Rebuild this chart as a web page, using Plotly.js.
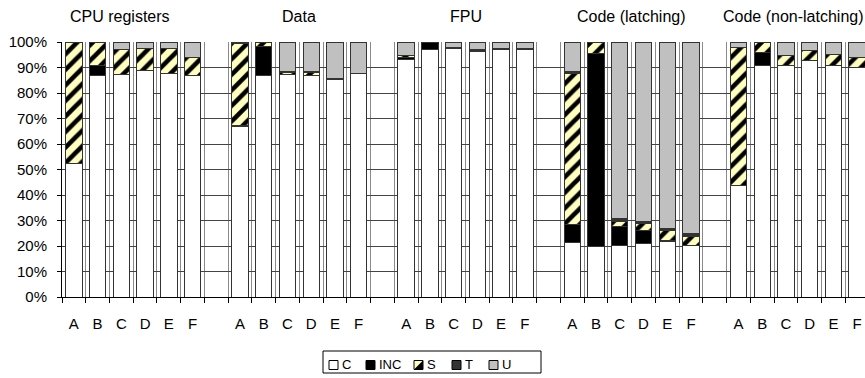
<!DOCTYPE html>
<html><head><meta charset="utf-8">
<script src="https://cdn.plot.ly/plotly-3.0.1.min.js"></script>
<style>html,body{margin:0;padding:0;overflow:hidden;background:#fff}#chart{width:869px;height:378px}</style>
</head><body><div id="chart"></div>
<script>
const groups = ['CPU registers','Data','FPU','Code (latching)','Code (non-latching)'];
const letters = ['A','B','C','D','E','F'];
const seriesNames = ['C','INC','S','T','U'];
// values per bar (percent), groups in order, bars A..F
const valC   = [52.2,87.0,87.4,88.7,87.8,87.0, 66.8,87.0,87.4,86.7,85.2,87.6, 93.2,97.1,97.4,96.4,97.1,97.1, 21.2,19.9,20.1,20.8,21.9,20.3, 43.8,90.9,90.9,92.8,90.9,90.0];
const valINC = [0,3.6,0,0,0,0, 0.6,11.2,0,0,0,0, 0.6,2.9,0,0,0,0, 7.2,75.5,7.4,5.1,0.4,0, 0,4.9,0,0,0,0];
const valS   = [47.5,9.2,9.5,8.7,9.7,6.9, 32.0,1.8,0.6,1.2,0.2,0, 1.1,0,0,0,0,0, 59.4,4.3,2.3,2.9,3.6,3.3, 54.0,4.2,4.0,3.7,4.3,3.9];
const valT   = [0,0,0,0,0,0, 0,0,0.4,0.5,0.4,0, 0,0,0.3,0.5,0.2,0.2, 0.6,0,0.9,0.9,0.8,1.3, 0,0,0,0,0,0];
const valU   = [0.3,0.2,3.1,2.6,2.5,6.1, 0.6,0,11.6,11.6,14.2,12.4, 5.1,0,2.3,3.1,2.7,2.7, 11.6,0.3,69.3,70.3,73.3,75.1, 2.2,0,5.1,3.5,4.8,6.1];

const perGroup = letters.length, slot = perGroup + 1;
const xs = [], tickText = [];
groups.forEach((g, gi) => letters.forEach((l, li) => { xs.push(gi * slot + li); tickText.push(l); }));
const nCat = groups.length * slot - 1;   // 34 category slots (bars + gaps)
const xRange = [-0.5, nCat - 0.5];

const fills = {C:'#ffffff', INC:'#000000', S:'#ffffc0', T:'#333333', U:'#c0c0c0'};
const vals = {C:valC, INC:valINC, S:valS, T:valT, U:valU};
const traces = seriesNames.map(n => {
  const marker = {color:fills[n], line:{color:'#333333', width:1}};
  if (n === 'S') marker.pattern = {shape:'/', fgcolor:'#000000', bgcolor:fills.S, size:11, solidity:0.42, fillmode:'replace'};
  return {type:'bar', name:n, x:xs, y:vals[n].map(v => v === 0 ? null : v), marker, hoverinfo:'skip', showlegend:false};
});
traces.push({type:'scatter', x:xs, y:xs.map(()=>null), xaxis:'x2', showlegend:false, hoverinfo:'skip'});

const fam = '"Liberation Sans", Arial, sans-serif';
const tickFont = {family:fam, size:15, color:'#000'};
const titleFont = {family:fam, size:16, color:'#000'};
const legFont = {family:fam, size:13, color:'#000'};

const titleNudge = [-0.55, 0, 0, 0, -0.2];
const annotations = groups.map((g, gi) => ({
  text:g, xref:'x', yref:'paper', x: gi*slot + (perGroup-1)/2 + titleNudge[gi], y:1,
  yshift:26, yanchor:'middle', showarrow:false, font:titleFont
}));

// custom compact legend (pixel offsets from plot's bottom-left corner)
const PL = 62, PB = 297;
const legSymX = [329, 366, 414, 452, 489];
const legY = 365, symSize = 9;
const shapes = [{type:'rect', xref:'paper', yref:'paper', xsizemode:'pixel', ysizemode:'pixel',
  xanchor:0, yanchor:0, x0:323-PL, x1:541-PL, y0:PB-373, y1:PB-351,
  line:{color:'#000', width:1}, fillcolor:'rgba(0,0,0,0)'}];
seriesNames.forEach((n, i) => {
  const x0 = legSymX[i] - PL, x1 = x0 + symSize, y0 = PB - legY - symSize/2, y1 = y0 + symSize;
  shapes.push({type:'rect', xref:'paper', yref:'paper', xsizemode:'pixel', ysizemode:'pixel',
    xanchor:0, yanchor:0, x0, x1, y0, y1, line:{color:'#000', width:1}, fillcolor:fills[n]});
  if (n === 'S') shapes.push({type:'path', xref:'paper', yref:'paper', xsizemode:'pixel', ysizemode:'pixel',
    xanchor:0, yanchor:0, path:`M${x1},${y0} L${x1},${y1} L${x0},${y0} Z`, line:{width:0}, fillcolor:'#000'});
  annotations.push({text:n, xref:'paper', yref:'paper', x:0, y:0, xshift:x1 + 2, yshift:y0 + symSize/2 + 0.5,
    xanchor:'left', yanchor:'middle', showarrow:false, font:legFont});
});

const layout = {
  width:869, height:378, autosize:false,
  margin:{l:PL, r:0, t:42, b:378-PB, pad:0, autoexpand:false},
  paper_bgcolor:'#fff', plot_bgcolor:'#fff',
  font:tickFont,
  barmode:'stack', barnorm:'fraction', bargap:0.31,
  showlegend:false,
  xaxis:{range:xRange, tickmode:'linear', tick0:-0.5, dtick:1, automargin:false,
         showticklabels:false, ticks:'outside', ticklen:5, tickcolor:'#000',
         showgrid:true, gridcolor:'#8a8a8a', gridwidth:1,
         showline:true, linecolor:'#000', linewidth:1, zeroline:false, fixedrange:true},
  xaxis2:{overlaying:'x', side:'bottom', range:xRange, tickmode:'array', automargin:false,
          tickvals:xs, ticktext:tickText, ticks:'', showgrid:false, showline:false,
          zeroline:false, tickfont:tickFont, ticklabelstandoff:16},
  yaxis:{range:[0,1], tickmode:'linear', tick0:0, dtick:0.1, tickformat:'.0%', automargin:false,
         ticks:'outside', ticklen:4, tickcolor:'#000', ticklabelstandoff:7,
         showgrid:true, gridcolor:'#444444', gridwidth:1,
         showline:true, linecolor:'#000', linewidth:1, zeroline:false, tickfont:tickFont},
  annotations, shapes
};
Plotly.newPlot('chart', traces, layout, {displayModeBar:false, staticPlot:true});
</script></body></html>
